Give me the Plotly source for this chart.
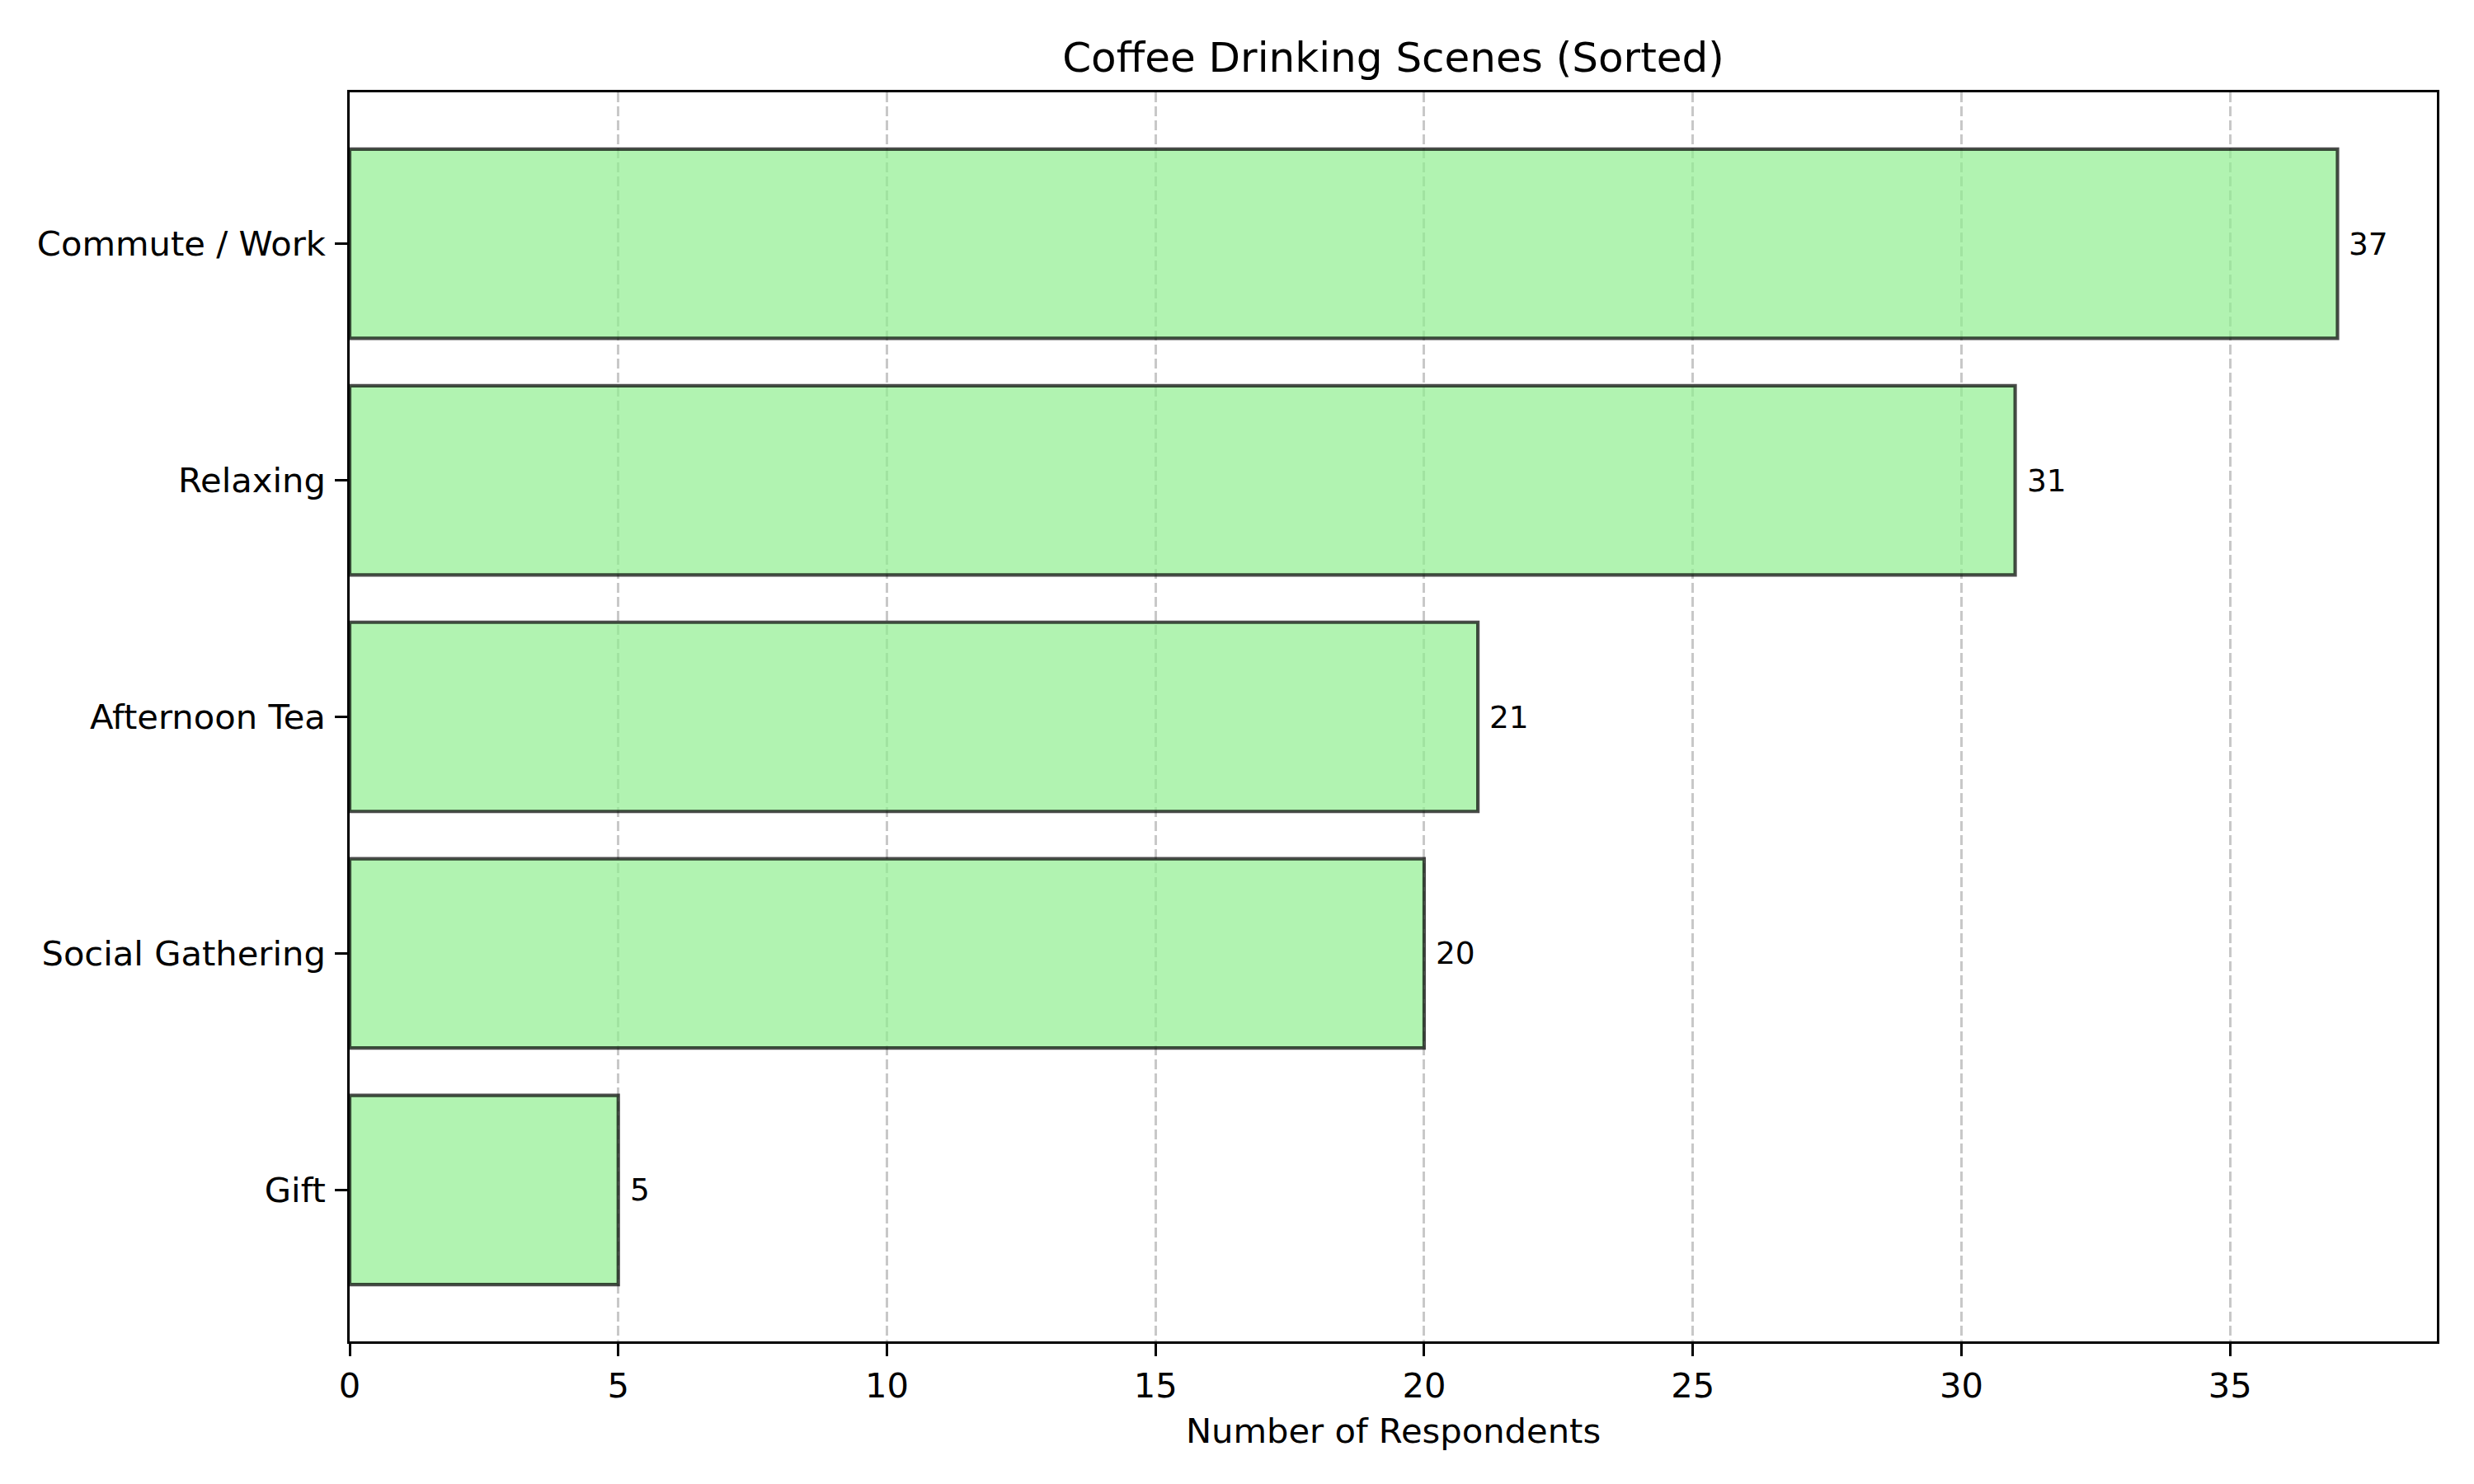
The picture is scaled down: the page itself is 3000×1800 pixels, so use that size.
import plotly.graph_objects as go

# ── data (sorted, smallest at the bottom) ─────────────────────────────
scenes = ["Gift", "Social Gathering", "Afternoon Tea", "Relaxing", "Commute / Work"]
respondents = [5, 20, 21, 31, 37]
x_ticks = [0, 5, 10, 15, 20, 25, 30, 35]

FONT = "DejaVu Sans"
PT = 300 / 72   # matplotlib points -> px at 300 dpi
OFF = 8         # page body margin the figure sits in

fig = go.Figure()
fig.add_trace(go.Bar(
    y=scenes, x=respondents,
    orientation="h",
    width=0.8,
    marker=dict(color="rgba(144,238,144,0.7)",
                line=dict(color="rgba(0,0,0,0.7)", width=1.0 * PT)),
    showlegend=False,
    hoverinfo="skip",
))

# value labels just right of each bar
for s, v in zip(scenes, respondents):
    fig.add_annotation(x=v, y=s, text=str(v), showarrow=False,
                       xanchor="left", yanchor="middle", xshift=12,
                       font=dict(family=FONT, size=9 * PT, color="black"))

x_max = max(respondents) * 1.05

fig.update_layout(
    width=3000, height=1800,
    margin=dict(l=424 - OFF, r=53, t=112 - OFF, b=181),
    paper_bgcolor="white", plot_bgcolor="white",
    font=dict(family=FONT, size=10 * PT, color="black"),
    title=dict(text="Coffee Drinking Scenes (Sorted)", x=0.5, xanchor="center",
               xref="paper", yref="container", y=1 - (69 - OFF) / 1800, yanchor="middle",
               font=dict(family=FONT, size=12 * PT, color="black")),
    bargap=0.2,
)
fig.update_xaxes(
    range=[0, x_max], tickvals=x_ticks,
    showline=True, linecolor="black", linewidth=0.8 * PT, mirror=True,
    ticks="outside", ticklen=3.5 * PT, tickwidth=0.8 * PT, tickcolor="black",
    showgrid=True, gridcolor="rgba(176,176,176,0.7)", gridwidth=0.8 * PT,
    griddash="12px,5px", zeroline=False,
    title=dict(text="Number of Respondents", standoff=18,
               font=dict(family=FONT, size=10 * PT)),
    tickfont=dict(family=FONT, size=10 * PT),
)
fig.update_yaxes(
    type="category", categoryorder="array", categoryarray=scenes,
    range=[-0.64, len(scenes) - 1 + 0.64],
    showline=True, linecolor="black", linewidth=0.8 * PT, mirror=True,
    ticks="outside", ticklen=3.5 * PT, tickwidth=0.8 * PT, tickcolor="black",
    showgrid=False, zeroline=False, ticklabelstandoff=3,
    tickfont=dict(family=FONT, size=10 * PT),
)

fig.write_html("out.html")
